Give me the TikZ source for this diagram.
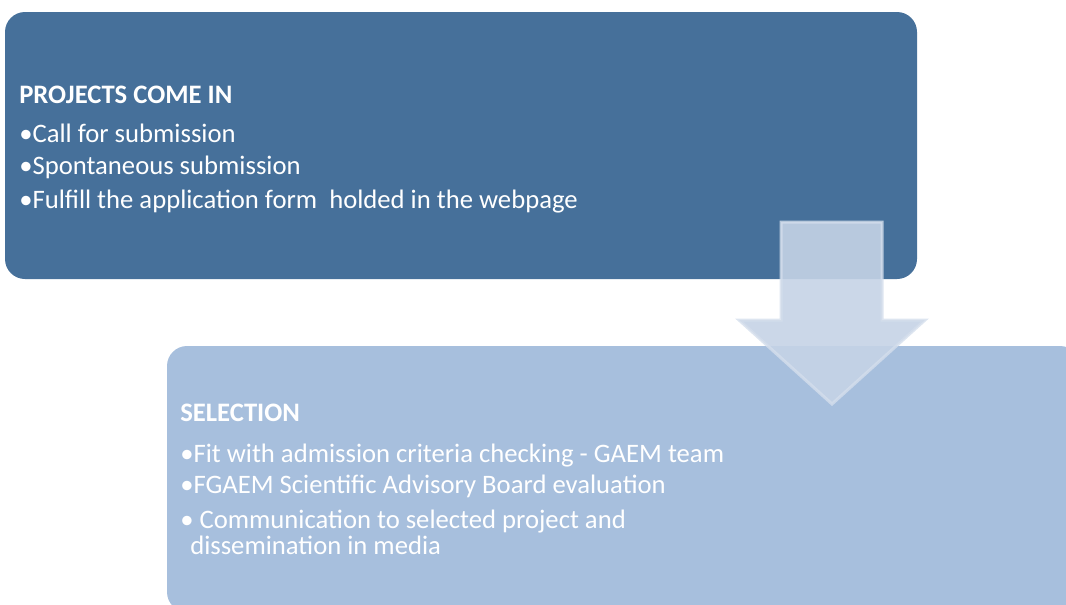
\documentclass[tikz,border=0pt]{standalone}
\usepackage{fontspec}
\setmainfont{Carlito}
\definecolor{topblue}{RGB}{70,112,154}
\definecolor{lowblue}{RGB}{167,191,221}
\definecolor{arrowfill}{RGB}{197,211,230}
\definecolor{arrowedge}{RGB}{212,222,236}
\begin{document}
\begin{tikzpicture}[x=0.75pt,y=-0.75pt,
  txt/.style={anchor=base west,inner sep=0pt,text=white,font=\fontsize{20}{24}\selectfont},
  ttl/.style={txt,font=\fontsize{20}{24}\selectfont\bfseries}]
\useasboundingbox (0,0) rectangle (1066,604);
\fill[topblue,rounded corners=20*0.75pt] (5,12) rectangle (917,279);
\fill[lowblue,rounded corners=20*0.75pt] (167,346) rectangle (1080,612);
\node[ttl] (t1) at (19,103) {PROJECTS COME IN};
\node[txt] (a1) at (19,142) {•Call for submission};
\node[txt] (a2) at (19,174) {•Spontaneous submission};
\node[txt] (a3) at (19,208) {•Fulfill the application form \ holded in the webpage};
\node[ttl] (t2) at (180,421) {SELECTION};
\node[txt] (b1) at (180,462) {•Fit with admission criteria checking - GAEM team};
\node[txt] (b2) at (180,493) {•FGAEM Scientific Advisory Board evaluation};
\node[txt] (b3) at (180,528) {• Communication to selected project and};
\node[txt] (b4) at (190,554) {dissemination in media};
\filldraw[fill=arrowfill,fill opacity=0.9,draw=arrowedge,draw opacity=0.8,line width=3*0.75pt,line join=miter]
  (781,222) -- (882,222) -- (882,320) -- (925,320) -- (832,404) -- (739,320) -- (781,320) -- cycle;
\end{tikzpicture}
\end{document}
